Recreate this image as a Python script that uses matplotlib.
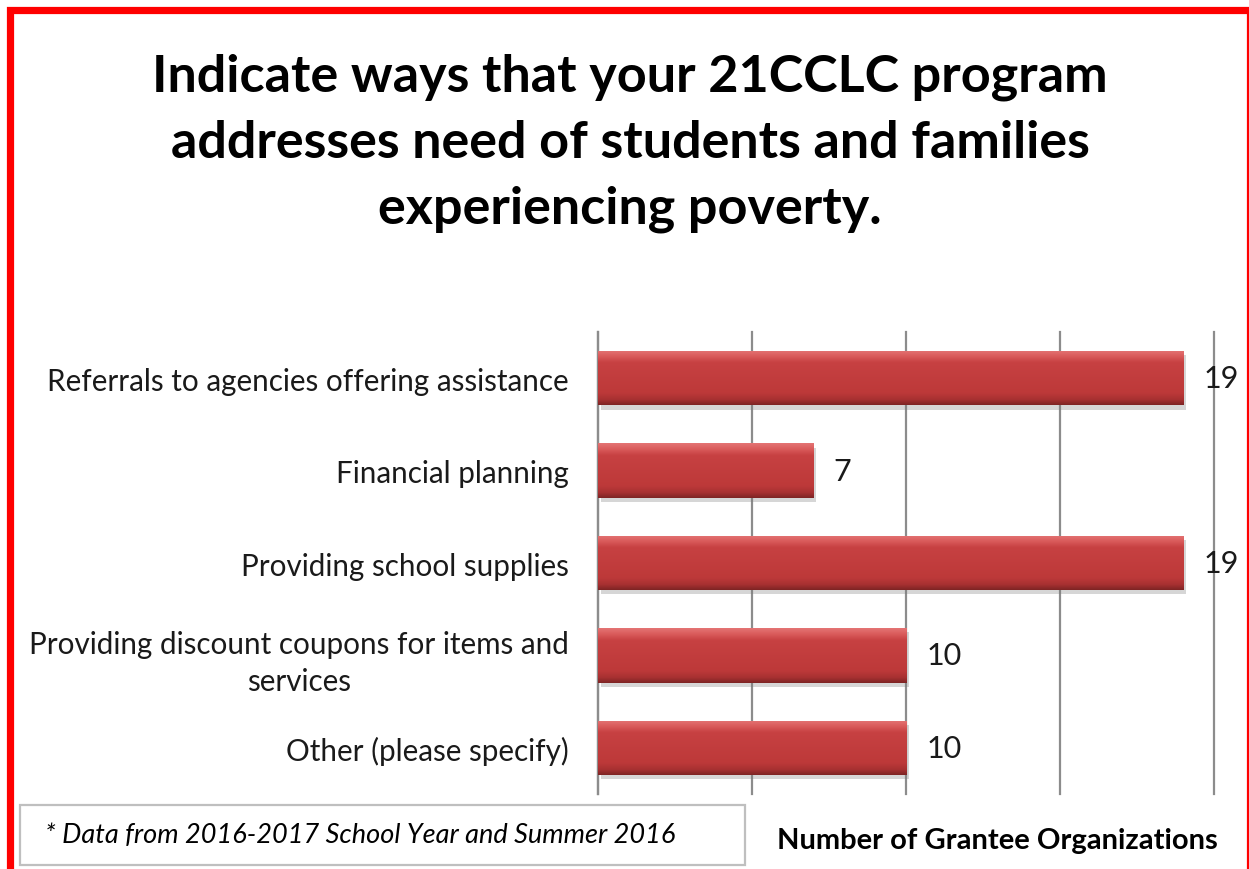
import matplotlib.pyplot as plt
import numpy as np
from matplotlib.colors import LinearSegmentedColormap
from matplotlib.patches import Rectangle
import matplotlib.patheffects as pe

plt.rcParams['font.family'] = ['Lato', 'DejaVu Sans']

categories = [
    "Referrals to agencies offering assistance",
    "Financial planning",
    "Providing school supplies",
    "Providing discount coupons for items and\nservices",
    "Other (please specify)",
]
counts = [19, 7, 19, 10, 10]

title_lines = [
    "Indicate ways that your 21CCLC program",
    "addresses need of students and families",
    "experiencing poverty.",
]
x_label = "Number of Grantee Organizations"
footnote = "* Data from 2016-2017 School Year and Summer 2016"

fig = plt.figure(figsize=(12.49, 8.70), dpi=100)
ax = fig.add_axes([0.4788, 0.0862, 0.4932, 0.5310])

# red frame round the slide (bottom edge runs off the page)
fig.patches.append(Rectangle((9.5 / 1249, -0.05), (1249.5 - 9.5) / 1249, 1 - 10.5 / 870 + 0.05,
                             transform=fig.transFigure, fill=False,
                             edgecolor='#FF0000', linewidth=5.2, zorder=10))

# title, one line at a time
for i, line in enumerate(title_lines):
    fig.text(630 / 1249, 1 - (77 + 66 * i) / 870, line, ha='center', va='center',
             fontsize=37.5, fontweight='bold', color='black')

y = np.arange(len(categories))
bar_h = 0.59

bars = ax.barh(y, counts, height=bar_h, color='#C0393B', zorder=3,
               path_effects=[pe.SimplePatchShadow(offset=(2, -3), shadow_rgbFace='#7a7a7a', alpha=0.3),
                             pe.Normal()])

# vertical shading inside each bar: light rim on top, darker rim underneath
shade = LinearSegmentedColormap.from_list('bar_shade', [
    (0.0, '#E47474'), (0.12, '#D85858'), (0.22, '#C74142'),
    (0.78, '#BD3939'), (0.9, '#A83132'), (1.0, '#7E2424')])
grad = np.linspace(0, 1, 128).reshape(-1, 1)
for rect, yi, v in zip(bars, y, counts):
    im = ax.imshow(grad, cmap=shade, aspect='auto', zorder=4,
                   extent=[0, v, yi + bar_h / 2, yi - bar_h / 2], interpolation='bilinear')
    im.set_clip_path(rect)
    ax.annotate(str(v), xy=(v, yi), xytext=(14.5, 0), textcoords='offset points',
                ha='left', va='center', fontsize=22, color='#1a1a1a', zorder=5)

ax.set_xlim(0, 20)
ax.set_ylim(len(categories) - 0.5, -0.5)
ax.set_xticks([0, 5, 10, 15, 20])
ax.set_xticklabels([])
ax.tick_params(axis='x', length=0)
ax.tick_params(axis='y', length=0, pad=21)
ax.set_yticks(y)
ax.set_yticklabels(categories, fontsize=21.3, color='#1a1a1a', multialignment='center',
                   linespacing=1.4)
ax.grid(axis='x', color='#8C8C8C', linewidth=1.6, zorder=0)
for gl in ax.get_xgridlines():
    gl.set_clip_on(False)
ax.set_axisbelow(True)
for side in ['top', 'right', 'bottom']:
    ax.spines[side].set_visible(False)
ax.spines['left'].set_color('#8C8C8C')
ax.spines['left'].set_linewidth(1.6)

fig.text(997 / 1249, 1 - 841 / 870, x_label, ha='center', va='center',
         fontsize=21, fontweight='bold', color='black')

# footnote box
fig.patches.append(Rectangle((20 / 1249, 1 - 866 / 870), 725 / 1249, 60 / 870,
                             transform=fig.transFigure, fill=False,
                             edgecolor='#BFBFBF', linewidth=1.6))
fig.text(45 / 1249, 1 - 836 / 870, footnote, ha='left', va='center',
         fontsize=19.5, style='italic', color='black')

fig.savefig('out.png', dpi=100)
